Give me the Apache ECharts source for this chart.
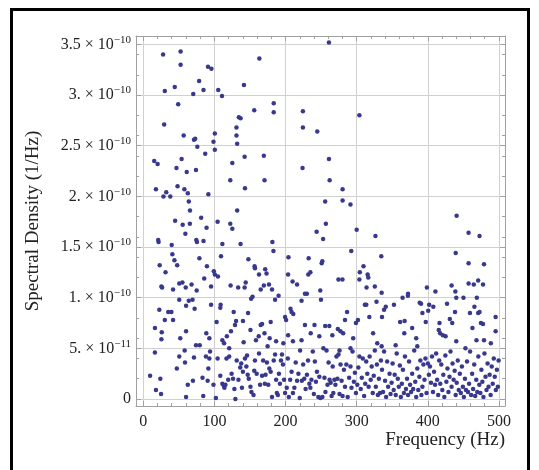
<!DOCTYPE html>
<html><head><meta charset="utf-8">
<script src="https://cdn.jsdelivr.net/npm/echarts@6/dist/echarts.min.js"></script>
<style>
html,body{margin:0;padding:0;background:#fff;}
#frame{position:absolute;left:10px;top:8px;width:514px;height:480px;border-left:3px solid #000;border-top:3px solid #000;border-right:3px solid #000;}
#c{position:absolute;left:0;top:0;width:539px;height:470px;}
</style></head>
<body>
<div id="frame"></div>
<div id="c"></div>
<script>
// Frequency (Hz)
const freq = [
27.9,52.5,52.5,163.2,91,95.8,261,78.5,44.3,30.3,70.3,84.7,105.4,110.7,141.5,49.1,183.4,183.4,156,224.4,303.8,29.4,131,134.4,136.8,224.4,244.6,56.8,71.3,73,100.6,98.7,100.6,76,131,132,87.1,15.4,20.2,53.9,46.7,74.1,61.1,125.2,142.5,169.5,261,223.9,262,170.5,122.3,143,17.8,48.2,57.8,32.3,28.4,38,62.6,64,91.5,280.2,280.2,291.3,255.7,65.7,132,81.4,44.8,55.4,65.5,89,104.5,122.3,125.2,243.7,256.7,300,326.4,440.5,457.3,472.7,21,21.5,59.2,74.6,75.5,84.7,111.2,136.8,181.5,183,252.8,
40,40.9,43.8,47.7,23.1,31.3,25.5,26.5,41.9,50.6,55,50.6,59.7,67.9,69.3,75.1,78.9,89.5,95.3,85.7,99.2,100.6,105,109.3,122.8,133.4,142.5,144,147.8,156.5,157,153.6,162.7,165.1,169.5,171.4,173.3,176.7,181,185.3,204.1,203.6,209.9,216.2,190.2,232.5,232,234.9,250.8,251.7,248.8,249.8,227.3,230,222.5,274.4,280,292.4,304.4,303.8,309.6,315.4,316.3,313.9,325.5,327.9,334.6,335.1,364.5,372.2,372,398.7,410.7,433.4,438.7,440,450.1,457.3,457.3,464.6,470.8,477.6,479,468.9,439.2,
22.6,35.1,39.5,30.3,41.9,16.4,26,25.5,60.2,52,60.2,64,72.2,74.1,79.4,88.6,95.3,92.9,108.8,108.3,103.1,111.2,113.6,117.5,120.8,123.3,127.1,129,130.5,140.1,141.1,147.3,150.7,151.6,158.4,162.3,165.1,167,170.4,177.7,179.1,174.8,186.8,199.3,200.8,207,208.5,210.9,210.4,196.9,203.6,222.5,227.3,235.4,240.7,247.5,255.7,261.5,265.8,273.5,277.3,281,275.9,286.5,283.6,295.1,299,301.8,291.3,311.5,313.5,317.8,323.1,328.9,335.6,338.5,340.9,335.1,352.4,354.8,361.1,366.9,367.4,378,383.7,385.2,388.6,390.5,392.4,397.1,400.5,401.9,407.7,416.4,417.3,421.2,425,415.4,427,430.9,434.3,438.2,440,452.9,459.2,462.7,465.5,470.8,472.7,474.7,477.6,479,488.6,495.3,495.3,468.4,
9.6,16.4,17.8,24,25,47.2,50.6,
58.2,58.7,60.2,62.6,69.8,71.3,84.3,83.3,90.5,91.5,93.9,88.1,98.7,92.9,
102.1,104.5,108.3,111.2,114.1,113.2,115.5,117,119.4,120.8,124.2,126.2,128.1,129.5,131.4,133.8,136.3,137.7,138.7,140.1,143,144.9,146.8,148.3,145.9,
150.7,152.1,155,157,156,159.4,162.7,164.2,167,168.5,170.9,171.9,173.8,175.7,177.2,179.1,181,183.4,185.3,186.8,187.8,189.2,190.7,192.1,193.6,195,196.4,197.9,199.3,
201.7,203.2,204.6,206.5,208.5,210.4,212.4,214.3,216.2,218.1,220,220.5,222.9,224.8,226.3,228.2,230.1,231.6,233.5,234.9,236.4,238.3,239.8,241.2,242.7,244.1,246.1,247.5,249,
251.8,253.2,254.7,256.1,257.6,259,260.5,261.9,263.4,264.8,266.3,267.2,268.7,270.1,271.6,273,274.4,275.9,277.3,278.8,280.2,282.1,283.6,285.5,287.4,289.4,291.3,292.7,294.2,296.1,297.5,299,
300.9,302.4,303.8,305.7,307.2,308.6,310.5,312,313.4,314.9,316.8,318.2,319.7,321.1,322.6,324,325.5,326.9,328.4,329.8,331.2,332.7,334.1,335.6,337,338.5,339.9,341.4,342.8,344.2,346.2,347.6,349.1,
350.5,352,353.4,354.9,356.3,357.8,359.2,360.7,362.1,363.5,365,366.4,367.9,369.3,370.8,372.2,373.6,375.1,376.5,378,379.4,380.9,382.3,383.7,385.2,386.6,388.1,389.5,391,392.4,393.8,395.3,396.7,398.2,
400.1,401.5,403,404.4,405.9,407.3,408.8,410.2,411.7,413.1,414.6,416,417.5,418.9,420.4,421.8,423.2,424.7,426.1,427.6,429,430.5,431.9,433.4,434.8,436.3,437.7,439.2,440.6,442.1,443.5,445,446.4,447.9,449.3,
450.7,452.2,453.6,455.1,456.5,458,459.4,460.9,462.3,463.7,465.2,466.6,468.1,469.5,471,472.4,473.9,475.3,476.7,478.2,479.6,481.1,482.5,484,485.4,486.9,488.3,489.8,491.2,492.7,494.1,495.6,497.1,498.5,499.5
];
// Spectral density, in units of 1e-11 1/Hz
const densityE11 = [
34.0,34.3,33.0,33.6,32.8,32.6,35.2,31.4,30.8,30.4,30.1,30.5,30.5,29.9,31.0,29.1,29.2,28.3,28.5,28.4,28.0,27.1,26.8,27.8,27.7,26.8,26.4,26.0,25.6,25.7,26.2,25.4,24.6,24.9,26.0,25.2,24.2,23.5,23.2,23.7,22.8,22.6,22.4,23.3,23.9,24.0,23.7,22.8,21.6,21.6,21.6,20.8,20.7,21.0,20.7,20.4,20.0,20.0,20.3,19.5,20.2,20.7,19.6,19.2,19.5,18.6,18.6,17.9,17.6,17.2,17.3,16.9,17.5,17.3,16.8,16.5,17.3,16.7,16.1,18.1,16.4,16.1,15.7,15.5,16.3,15.7,15.5,15.6,15.3,15.3,15.5,14.6,15.8,
15.2,14.3,13.7,13.2,13.2,12.5,11.1,11.0,10.8,11.4,11.5,9.8,11.0,11.3,9.8,10.7,13.9,13.1,11.1,11.9,12.6,12.3,12.1,14.1,11.2,11.0,11.0,11.5,13.8,13.1,12.9,10.1,12.3,10.8,11.2,12.8,12.4,11.3,10.8,9.8,14.0,12.3,11.6,11.3,10.2,13.9,12.3,12.5,13.4,13.6,10.7,9.8,10.4,10.4,9.7,11.8,11.8,14.6,12.5,11.8,13.1,12.3,12.0,11.0,11.1,9.6,14.1,10.5,10.0,10.4,10.2,11.0,10.6,11.2,10.6,10.0,10.0,13.4,11.4,11.3,11.7,11.3,13.3,10.0,14.4,
8.8,8.6,8.6,7.8,7.8,7.0,6.6,5.9,6.7,6.0,9.2,9.7,8.9,5.3,5.3,6.5,9.3,6.0,9.3,9.0,7.6,5.8,5.5,6.2,5.0,6.7,8.6,7.3,7.7,7.7,5.6,8.5,6.8,9.9,5.8,6.2,7.3,7.4,6.5,6.0,7.6,5.2,5.7,8.1,7.8,8.9,8.6,8.4,5.7,5.5,6.3,5.8,7.3,6.5,7.3,6.2,7.2,7.2,6.3,6.9,6.7,6.5,4.8,8.6,7.8,6.0,7.5,7.8,5.0,9.3,9.3,8.1,6.5,5.5,8.1,8.8,9.1,5.2,9.3,5.3,7.6,6.5,7.7,7.0,6.0,5.2,9.5,9.4,8.5,7.6,8.7,9.3,9.1,7.5,6.5,6.3,6.2,6.8,9.4,7.9,7.5,8.6,5.7,5.0,8.5,7.0,9.1,8.5,8.6,7.5,7.4,5.8,5.5,8.1,6.7,5.8,
2.3,4.6,0.9,2.0,0.5,3.0,4.2,
4.8,3.6,0.2,1.4,1.8,4.1,0.3,2.1,1.8,3.0,4.7,4.2,1.4,4.0,
0.1,4.0,2.3,1.5,1.1,1.3,1.4,4.0,1.9,4.2,2.5,2.0,1.0,0.0,3.8,1.9,3.1,3.5,1.1,2.7,4.0,3.2,2.4,2.0,4.3,
1.2,0.7,0.4,3.8,2.8,2.5,4.5,1.4,2.3,3.8,1.5,2.4,3.6,1.4,3.0,2.7,0.2,3.8,4.4,1.9,0.6,0.4,2.5,1.5,3.8,4.4,3.4,1.9,0.6,
1.1,4.0,0.2,1.9,2.7,0.6,1.1,3.6,1.8,2.5,0.1,4.8,1.8,3.4,2.0,1.0,2.4,3.8,1.5,1.1,1.9,4.7,0.5,3.7,1.7,2.7,0.2,2.2,0.1,
0.2,5.0,2.1,0.7,4.8,1.4,3.6,1.9,1.6,0.3,3.2,0.6,1.9,1.4,4.2,2.0,4.4,0.5,3.4,1.8,0.3,2.9,1.2,3.4,0.2,2.1,3.2,1.1,4.7,1.7,2.6,0.6,
1.4,3.1,4.2,1.0,2.1,4.0,0.3,1.5,3.7,2.5,1.2,4.2,1.9,3.2,0.6,2.3,4.8,1.2,3.4,0.4,2.0,0.6,3.8,2.9,0.7,4.7,1.8,0.2,3.7,1.2,2.5,0.5,1.6,
3.5,0.9,2.4,0.4,4.5,2.0,1.2,3.3,0.2,1.5,2.9,0.6,4.2,1.0,2.0,0.4,3.7,1.4,0.7,2.5,1.0,4.8,1.7,0.2,3.0,0.9,2.2,3.8,0.4,1.2,3.4,1.9,4.0,0.6,
3.5,2.4,3.2,1.6,4.2,0.7,2.7,1.4,4.5,1.9,0.4,3.8,1.5,3.4,0.9,2.4,0.2,4.3,1.7,3.0,0.7,2.2,4.7,1.2,3.5,1.9,2.8,0.4,1.6,3.8,0.9,2.5,0.6,3.2,1.2,
0.2,2.0,0.9,3.7,0.7,1.5,4.7,0.4,2.5,1.0,3.4,0.3,1.9,0.7,4.2,1.4,0.6,2.9,1.7,0.2,4.5,2.2,0.9,3.5,1.2,2.4,0.4,3.2,1.5,4.0,2.2,0.9,2.9,1.2,3.8
];
const xTicks = [0,100,200,300,400,500];
const yTicks = [0,5,10,15,20,25,30,35];
const yTickLabels = ['0','5.×10|−11','1.×10|−10','1.5×10|−10','2.×10|−10','2.5×10|−10','3.×10|−10','3.5×10|−10'];
const xTitle = 'Frequency (Hz)';
const yTitle = 'Spectral Density (1/Hz)';

const points = freq.map((f,i)=>[f, densityE11[i]]);
const font = '"Liberation Serif","Times New Roman",serif';
const frameColor = '#a0a0a0';
const gridColor = '#d0d0d0';

function yFmt(v){
  const idx = yTicks.indexOf(Math.round(v));
  if (idx < 0) return '';
  const t = yTickLabels[idx];
  if (t.indexOf('|') < 0) return '{m|' + t + '}';
  const p = t.split('|');
  return '{m|' + p[0].replace('×', ' × ') + '}{s|' + p[1] + '}';
}

const xMin = -10.2, xMax = 508.5, yMin = -0.69, yMax = 35.83;

const chart = echarts.init(document.getElementById('c'), null, {renderer:'canvas'});
chart.setOption({
  animation: false,
  backgroundColor: 'transparent',
  grid: {left: 136, right: 34, top: 36, bottom: 64, containLabel: false, outerBoundsMode: 'none'},
  graphic: [{
    type: 'text', right: 34, top: 431,
    style: {text: xTitle, fontFamily: font, fontSize: 19, fill: '#222', textAlign: 'right'}
  }],
  xAxis: [{
    type: 'value', min: xMin, max: xMax, position: 'bottom',
    axisLine: {show: true, onZero: false, lineStyle: {color: frameColor, width: 1}},
    axisTick: {show: true, inside: true, length: 5, customValues: xTicks, lineStyle: {color: frameColor}},
    minorTick: {show: true, splitNumber: 5, length: 3, lineStyle: {color: frameColor}},
    axisLabel: {customValues: xTicks, fontFamily: font, fontSize: 16, color: '#222', margin: 8},
    splitLine: {show: true, lineStyle: {color: gridColor, width: 1}}
  },{
    type: 'value', min: xMin, max: xMax, position: 'top',
    axisLine: {show: true, onZero: false, lineStyle: {color: frameColor, width: 1}},
    axisTick: {show: true, inside: true, length: 5, customValues: xTicks, lineStyle: {color: frameColor}},
    minorTick: {show: true, splitNumber: 5, length: 3, lineStyle: {color: frameColor}},
    axisLabel: {show: false}, splitLine: {show: false}
  }],
  yAxis: [{
    type: 'value', min: yMin, max: yMax, position: 'left',
    name: yTitle, nameLocation: 'middle', nameGap: 93, nameRotate: 90,
    nameTextStyle: {fontFamily: font, fontSize: 19, color: '#222'},
    axisLine: {show: true, onZero: false, lineStyle: {color: frameColor, width: 1}},
    axisTick: {show: true, inside: true, length: 5, customValues: yTicks, lineStyle: {color: frameColor}},
    minorTick: {show: true, splitNumber: 5, length: 3, lineStyle: {color: frameColor}},
    axisLabel: {customValues: yTicks, margin: 5, formatter: yFmt,
      rich: {
        m: {fontFamily: font, fontSize: 16, color: '#222'},
        s: {fontFamily: font, fontSize: 11, color: '#222', verticalAlign: 'top', padding: [0,0,9,0]}
      }},
    splitLine: {show: true, lineStyle: {color: gridColor, width: 1}}
  },{
    type: 'value', min: yMin, max: yMax, position: 'right',
    axisLine: {show: true, onZero: false, lineStyle: {color: frameColor, width: 1}},
    axisTick: {show: true, inside: true, length: 5, customValues: yTicks, lineStyle: {color: frameColor}},
    minorTick: {show: true, splitNumber: 5, length: 3, lineStyle: {color: frameColor}},
    axisLabel: {show: false}, splitLine: {show: false}
  }],
  series: [{
    type: 'scatter', xAxisIndex: 0, yAxisIndex: 0,
    data: points, symbol: 'circle', symbolSize: 4.5,
    itemStyle: {color: '#38388c', opacity: 1},
    silent: true
  }]
});
</script>
</body></html>
